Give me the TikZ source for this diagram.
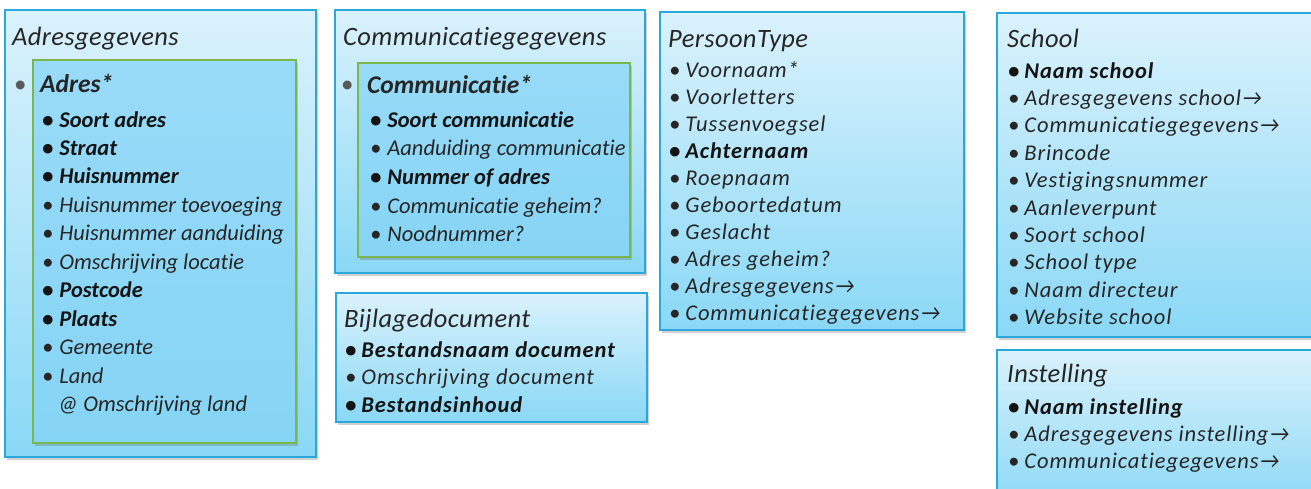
\documentclass[tikz,border=0pt]{standalone}
\usepackage{fontspec}
\setmainfont{Carlito}[Ligatures={NoCommon,NoContextual}]
\newfontfamily\widefont{Carlito}[Ligatures={NoCommon,NoContextual}, LetterSpace=4]
\newfontfamily\ttlfont{Carlito}[Ligatures={NoCommon,NoContextual}, LetterSpace=1.5]
\newcommand{\rarr}{→}
\usetikzlibrary{shadows}
\definecolor{outerb}{HTML}{2AA8DB}
\definecolor{innerb}{HTML}{7AB84E}
\definecolor{topc}{HTML}{DAF2FC}
\definecolor{botc}{HTML}{8AD8F6}
\definecolor{itop}{HTML}{98DBF8}
\definecolor{ibot}{HTML}{86D4F5}
\definecolor{txt}{HTML}{262626}
\tikzset{
  shad/.style={drop shadow={shadow xshift=2pt, shadow yshift=-3pt, opacity=0.3, fill=black!60}},
  outerbox/.style={draw=outerb, line width=1.5pt, top color=topc, bottom color=botc, inner sep=0pt, outer sep=0pt, anchor=north west, shad},
  innerbox/.style={draw=innerb, line width=1.5pt, top color=itop, bottom color=ibot, inner sep=0pt, outer sep=0pt, anchor=north west, shad},
  ttl/.style={anchor=base west, inner sep=0pt, text=txt, font=\ttlfont\fontsize{26.5}{26.5}\selectfont\itshape},
  itm/.style={anchor=base west, inner sep=0pt, text=txt, font=\fontsize{22.5}{22.5}\selectfont\itshape},
  bitm/.style={anchor=base west, inner sep=0pt, text=black!92, font=\fontsize{22.5}{22.5}\selectfont\bfseries\itshape},
  witm/.style={anchor=base west, inner sep=0pt, text=txt, font=\widefont\fontsize{22.5}{22.5}\selectfont\itshape},
  wbitm/.style={anchor=base west, inner sep=0pt, text=black!92, font=\widefont\fontsize{22.5}{22.5}\selectfont\bfseries\itshape},
  sub/.style={anchor=base west, inner sep=0pt, text=black!85, font=\fontsize{25.5}{25.5}\selectfont\bfseries\itshape},
  obul/.style={anchor=base west, inner sep=0pt, text=black!65, font=\fontsize{25}{25}\selectfont},
}
\begin{document}
\begin{tikzpicture}[x=1pt,y=-1pt]
\useasboundingbox[fill=white] (0,0) rectangle (1311,488);

% ---------- Adresgegevens ----------
\node[outerbox, minimum width=311pt, minimum height=447pt] (adresbox) at (5,10) {};
\node[ttl] (adrest) at (12,45) {Adresgegevens};
\node[obul] (adresbul) at (14,92) {\textbullet};
\node[innerbox, minimum width=263pt, minimum height=383pt] (adresin) at (33,60) {};
\node[sub] (adressub) at (40,92) {Adres*};
\foreach \s/\t [count=\i] in {bitm/Soort adres, bitm/Straat, bitm/Huisnummer, itm/Huisnummer toevoeging, itm/Huisnummer aanduiding, itm/Omschrijving locatie, bitm/Postcode, bitm/Plaats, itm/Gemeente, itm/Land}
  \node[\s] (adr\i) at (42,{127+28.45*(\i-1)}) {\textbullet\hspace{6pt}\t};
\node[itm] (adrland) at (58,411) {@ Omschrijving land};

% ---------- Communicatiegegevens ----------
\node[outerbox, minimum width=310pt, minimum height=263pt] (commbox) at (335,10) {};
\node[ttl] (commt) at (343,45) {Communicatiegegevens};
\node[obul] (commbul) at (341,92) {\textbullet};
\node[innerbox, minimum width=272pt, minimum height=194pt] (commin) at (358,63) {};
\node[sub] (commsub) at (367,93) {Communicatie*};
\foreach \s/\t [count=\i] in {bitm/Soort communicatie, itm/Aanduiding communicatie, bitm/Nummer of adres, itm/Communicatie geheim?, itm/Noodnummer?}
  \node[\s] (com\i) at (370,{127+28.7*(\i-1)}) {\textbullet\hspace{6pt}\t};

% ---------- Bijlagedocument ----------
\node[outerbox, minimum width=311pt, minimum height=129pt] (bijbox) at (336,293) {};
\node[ttl] (bijt) at (344,327) {Bijlagedocument};
\foreach \s/\t [count=\i] in {wbitm/Bestandsnaam document, witm/Omschrijving document, wbitm/Bestandsinhoud}
  \node[\s] (bij\i) at (345,{357+27.5*(\i-1)}) {\textbullet\hspace{5pt}\t};

% ---------- PersoonType ----------
\node[outerbox, minimum width=304pt, minimum height=318pt] (persbox) at (660,12) {};
\node[ttl] (perst) at (668,47) {PersoonType};
\foreach \s/\t [count=\i] in {witm/Voornaam*, witm/Voorletters, witm/Tussenvoegsel, wbitm/Achternaam, witm/Roepnaam, witm/Geboortedatum, witm/Geslacht, witm/Adres geheim?, witm/Adresgegevens\rarr, witm/Communicatiegegevens\rarr}
  \node[\s] (per\i) at (669,{77+27*(\i-1)}) {\textbullet\hspace{5pt}\t};

% ---------- School ----------
\node[outerbox, minimum width=330pt, minimum height=324pt] (schbox) at (997,13) {};
\node[ttl] (scht) at (1007,47) {School};
\foreach \s/\t [count=\i] in {wbitm/Naam school, witm/Adresgegevens school\rarr, witm/Communicatiegegevens\rarr, witm/Brincode, witm/Vestigingsnummer, witm/Aanleverpunt, witm/Soort school, witm/School type, witm/Naam directeur, witm/Website school}
  \node[\s] (sch\i) at (1008,{78+27.4*(\i-1)}) {\textbullet\hspace{5pt}\t};

% ---------- Instelling ----------
\node[outerbox, minimum width=330pt, minimum height=160pt] (instbox) at (997,350) {};
\node[ttl] (instt) at (1007,382) {Instelling};
\foreach \s/\t [count=\i] in {wbitm/Naam instelling, witm/Adresgegevens instelling\rarr, witm/Communicatiegegevens\rarr}
  \node[\s] (ins\i) at (1008,{414+27*(\i-1)}) {\textbullet\hspace{5pt}\t};
\end{tikzpicture}
\end{document}
